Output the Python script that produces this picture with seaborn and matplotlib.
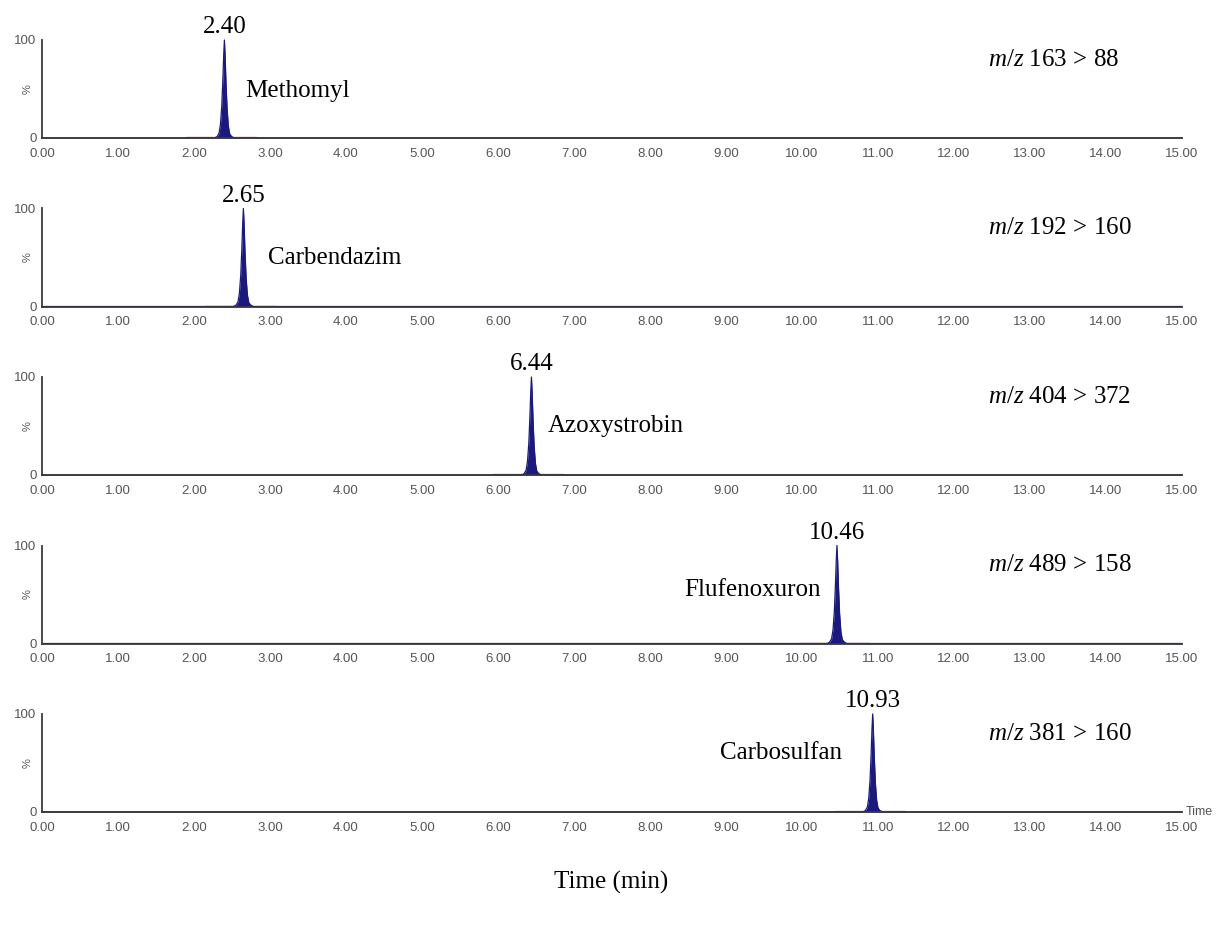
import matplotlib
matplotlib.use("Agg")
import matplotlib.pyplot as plt
from matplotlib.ticker import MultipleLocator, FixedLocator, FixedFormatter
from matplotlib import font_manager
import numpy as np
import pandas as pd
import seaborn as sns

# ---------------- data ----------------
compounds = ["Methomyl", "Carbendazim", "Azoxystrobin", "Flufenoxuron", "Carbosulfan"]
retention_times = [2.40, 2.65, 6.44, 10.46, 10.93]
transitions = ["163 > 88", "192 > 160", "404 > 372", "489 > 158", "381 > 160"]
# shape of a peak (offset from retention time in min, relative intensity %)
peak_offsets = [-0.13, -0.095, -0.07, -0.052, -0.035, -0.021, -0.009, 0.0,
                0.009, 0.021, 0.035, 0.052, 0.07, 0.095, 0.13]
peak_profile = [0, 1.5, 5, 14, 32, 58, 85, 100, 84, 56, 30, 12, 4, 1.5, 0]
x_ticks = [0, 1, 2, 3, 4, 5, 6, 7, 8, 9, 10, 11, 12, 13, 14, 15]
x_tick_labels = ["0.00", "1.00", "2.00", "3.00", "4.00", "5.00", "6.00", "7.00",
                 "8.00", "9.00", "10.00", "11.00", "12.00", "13.00", "14.00", "15.00"]
y_ticks = [0, 100]
y_tick_labels = ["0", "100"]

# ---------------- layout / style ----------------
name_pos = [(2.67, 48, "left"), (2.97, 50, "left"), (6.66, 50, "left"),
            (10.24, 55, "right"), (10.53, 60, "right")]

sns.set_theme(style="white")
plt.rcParams["font.family"] = ["Liberation Serif", "DejaVu Serif"]
plt.rcParams["mathtext.fontset"] = "custom"
plt.rcParams["mathtext.rm"] = "Liberation Serif"
plt.rcParams["mathtext.it"] = "Liberation Serif:italic"

installed = {f.name for f in font_manager.fontManager.ttflist}
if "Liberation Sans Narrow" in installed:
    small_font = ["Liberation Sans Narrow", "DejaVu Sans"]
    small_size = 11
else:
    small_font = ["Liberation Sans", "DejaVu Sans"]
    small_size = 9.5

W, H = 1222, 927
fig = plt.figure(figsize=(W / 100, H / 100), dpi=100)
fig.patch.set_facecolor("white")

navy = "#1b1a7c"
axis_col = "#3a3a3a"
tick_col = "#555555"

left_px, right_px = 42, 1182
for i, (name, rt, trans) in enumerate(zip(compounds, retention_times, transitions)):
    bottom_px = 138 + 168.5 * i
    height_px = 98
    ax = fig.add_axes([left_px / W, 1 - bottom_px / H, (right_px - left_px) / W, height_px / H])
    ax.set_facecolor("white")

    times = [0.0] + [rt + o for o in peak_offsets] + [15.0]
    signal = [0.0] + peak_profile + [0.0]
    df = pd.DataFrame({"time": times, "signal": signal})
    sns.lineplot(data=df, x="time", y="signal", ax=ax, color=navy, lw=0.9,
                 clip_on=False, zorder=3)
    ax.fill_between(df["time"], df["signal"], color=navy, lw=0, zorder=3, clip_on=False)
    # integration baseline
    ax.plot([rt - 0.5, rt + 0.42], [0.8, 0.8], color="#a05050", lw=1.0, alpha=0.7,
            zorder=2, clip_on=False)

    ax.set_xlim(0, 15)
    ax.set_ylim(0, 100)
    for s in ["top", "right"]:
        ax.spines[s].set_visible(False)
    for s in ["left", "bottom"]:
        ax.spines[s].set_color(axis_col)
        ax.spines[s].set_linewidth(1.3)
        ax.spines[s].set_zorder(4)

    ax.xaxis.set_major_locator(FixedLocator(x_ticks))
    ax.xaxis.set_major_formatter(FixedFormatter(x_tick_labels))
    ax.xaxis.set_minor_locator(MultipleLocator(0.1))
    ax.yaxis.set_major_locator(FixedLocator(y_ticks))
    ax.yaxis.set_major_formatter(FixedFormatter(y_tick_labels))
    ax.tick_params(axis="x", which="major", length=4, width=1.0, color=axis_col,
                   direction="inout", pad=5, labelsize=small_size, labelcolor=tick_col)
    ax.tick_params(axis="x", which="minor", length=3, width=0.8, color="#777777",
                   direction="inout")
    ax.tick_params(axis="y", which="major", length=3, width=1.0, color=axis_col,
                   direction="out", pad=1, labelsize=small_size, labelcolor=tick_col)
    for lab in ax.get_xticklabels() + ax.get_yticklabels():
        lab.set_family(small_font)
    ax.set_xlabel("")
    ax.set_ylabel("")
    ax.text(-0.0125, 0.5, "%", transform=ax.transAxes, rotation=90, ha="center",
            va="center", fontsize=8, color=tick_col, family=small_font)

    # annotations
    ax.text(rt, 107, f"{rt:.2f}", ha="center", va="baseline", fontsize=18,
            color="black", clip_on=False)
    nx, ny, nha = name_pos[i]
    ax.text(nx, ny, name, ha=nha, va="center", fontsize=18, color="black")
    ax.text(12.45, 80, r"$m/z$ " + trans, ha="left", va="center", fontsize=18,
            color="black")

    if i == len(compounds) - 1:
        ax.text(15.05, 0, "Time", ha="left", va="center", fontsize=9,
                color=tick_col, family=small_font, clip_on=False)

fig.text(0.5, 1 - 882 / H, "Time (min)", ha="center", va="center", fontsize=18,
         color="black")

fig.savefig("out.png", dpi=100, facecolor="white")
